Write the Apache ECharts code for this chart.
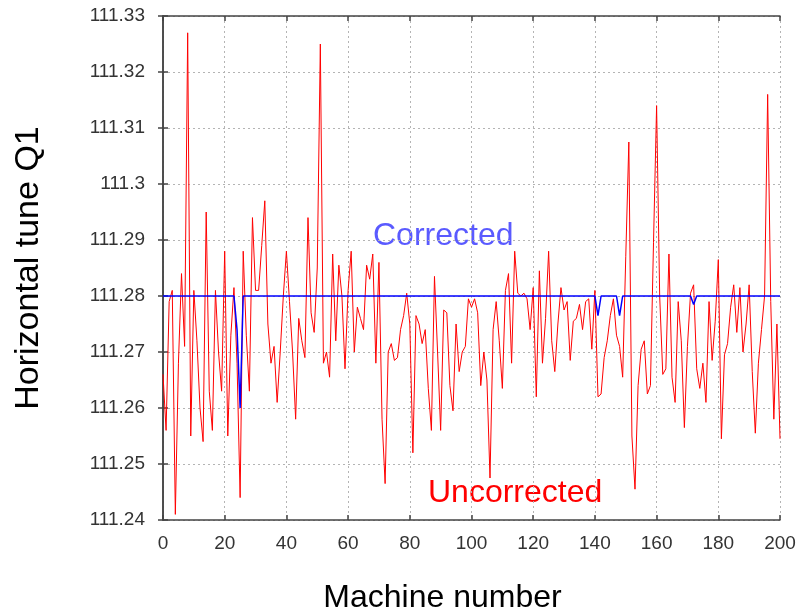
<!DOCTYPE html>
<html>
<head>
<meta charset="utf-8">
<script src="https://cdn.jsdelivr.net/npm/echarts@6/dist/echarts.min.js"></script>
<style>
  html, body { margin: 0; padding: 0; background: #fff; overflow: hidden; }
  #chart { width: 798px; height: 610px; }
</style>
</head>
<body>
<div id="chart"></div>
<script>
// tune readings per machine (0..200)
var uncorrected = [
  111.266, 111.256, 111.279, 111.281, 111.241, 111.268, 111.284, 111.271, 111.327, 111.255,
  111.281, 111.272, 111.260, 111.254, 111.295, 111.263, 111.256, 111.281, 111.270, 111.263,
  111.288, 111.255, 111.273, 111.2815, 111.268, 111.244, 111.288, 111.273, 111.263, 111.294,
  111.281, 111.281, 111.289, 111.297, 111.275, 111.268, 111.271, 111.261, 111.270, 111.280,
  111.288, 111.279, 111.270, 111.258, 111.276, 111.272, 111.269, 111.294, 111.277, 111.2735,
  111.285, 111.325, 111.268, 111.270, 111.2655, 111.2875, 111.272, 111.2855, 111.280, 111.267,
  111.281, 111.288, 111.270, 111.278, 111.276, 111.274, 111.2855, 111.283, 111.2875, 111.268,
  111.286, 111.258, 111.2465, 111.270, 111.2715, 111.2685, 111.269, 111.274, 111.2765, 111.2805,
  111.275, 111.252, 111.2765, 111.275, 111.2715, 111.274, 111.2635, 111.256, 111.2835, 111.270,
  111.256, 111.2775, 111.277, 111.264, 111.2595, 111.275, 111.2665, 111.270, 111.271, 111.2795,
  111.278, 111.2795, 111.277, 111.264, 111.270, 111.265, 111.2475, 111.274, 111.279, 111.272,
  111.2635, 111.281, 111.284, 111.268, 111.288, 111.2805, 111.280, 111.2805, 111.2795, 111.274,
  111.2815, 111.262, 111.2845, 111.268, 111.276, 111.288, 111.272, 111.2665, 111.275, 111.2815,
  111.2775, 111.279, 111.2685, 111.2755, 111.276, 111.2785, 111.274, 111.279, 111.2795, 111.2705,
  111.281, 111.262, 111.2625, 111.269, 111.272, 111.2765, 111.2795, 111.273, 111.271, 111.2655,
  111.287, 111.3075, 111.255, 111.2455, 111.264, 111.2705, 111.272, 111.2625, 111.264, 111.2895,
  111.314, 111.280, 111.266, 111.267, 111.2875, 111.2655, 111.261, 111.279, 111.272, 111.2565,
  111.271, 111.2805, 111.282, 111.267, 111.2635, 111.268, 111.261, 111.279, 111.2685, 111.2755,
  111.2865, 111.2545, 111.2695, 111.2715, 111.278, 111.282, 111.2735, 111.2815, 111.270, 111.275,
  111.282, 111.2665, 111.2555, 111.268, 111.274, 111.280, 111.316, 111.279, 111.258, 111.275,
  111.2545
]

// corrected tune: flat except a few small dips
var correctedX = [0, 23, 24, 25, 26, 140, 141, 142, 147, 148, 149, 171, 172, 173, 200]
var correctedY = [111.28, 111.28, 111.274, 111.26, 111.28, 111.28, 111.2765, 111.28,
  111.28, 111.2765, 111.28, 111.28, 111.2785, 111.28, 111.28]

var xTicks = { min: 0, max: 200, interval: 20 }
var yTicks = { min: 111.24, max: 111.33, interval: 0.01 }

var chart = echarts.init(document.getElementById('chart'))

var font = 'Liberation Sans'
var gridLine = { show: true, lineStyle: { color: '#b4b4b4', type: [2, 3], width: 1 } }
var boxLine = { show: true, lineStyle: { color: '#444', width: 1.5 } }
var inTick = { show: true, inside: true, length: 5, lineStyle: { color: '#444', width: 1.5 } }

chart.setOption({
  animation: false,
  grid: { left: 163, right: 18, top: 16, bottom: 90, outerBoundsMode: 'none' },
  xAxis: [{
    type: 'value',
    min: xTicks.min,
    max: xTicks.max,
    interval: xTicks.interval,
    name: 'Machine number',
    nameLocation: 'middle',
    nameGap: 62,
    nameTextStyle: { fontFamily: font, fontSize: 32, color: '#000', padding: [0, 58, 0, 0] },
    axisLine: boxLine,
    axisTick: inTick,
    splitLine: gridLine,
    axisLabel: { margin: 14, fontFamily: font, fontSize: 19, color: '#333' }
  }, {
    type: 'value',
    position: 'top',
    min: xTicks.min,
    max: xTicks.max,
    interval: xTicks.interval,
    axisLine: boxLine,
    axisTick: inTick,
    splitLine: { show: false },
    axisLabel: { show: false }
  }],
  yAxis: [{
    type: 'value',
    min: yTicks.min,
    max: yTicks.max,
    interval: yTicks.interval,
    name: 'Horizontal tune Q1',
    nameLocation: 'middle',
    nameGap: 117,
    nameTextStyle: { fontFamily: font, fontSize: 34, color: '#000' },
    axisLine: boxLine,
    axisTick: inTick,
    splitLine: gridLine,
    axisLabel: {
      margin: 18, fontFamily: font, fontSize: 19, color: '#333',
      formatter: function (v) { return String(+v.toFixed(2)) }
    }
  }, {
    type: 'value',
    position: 'right',
    min: yTicks.min,
    max: yTicks.max,
    interval: yTicks.interval,
    axisLine: boxLine,
    axisTick: inTick,
    splitLine: { show: false },
    axisLabel: { show: false }
  }],
  series: [{
    name: 'Uncorrected',
    type: 'line',
    data: uncorrected.map(function (v, i) { return [i, v] }),
    showSymbol: false,
    lineStyle: { color: '#ff0000', width: 1 },
    z: 2
  }, {
    name: 'Corrected',
    type: 'line',
    data: correctedX.map(function (x, i) { return [x, correctedY[i]] }),
    showSymbol: false,
    lineStyle: { color: '#0000ff', width: 1.5 },
    z: 3
  }],
  graphic: [{
    type: 'text',
    left: 373,
    top: 220,
    style: { text: 'Corrected', font: '32px "Liberation Sans"', fill: '#5a5aff' }
  }, {
    type: 'text',
    left: 428,
    top: 477,
    style: { text: 'Uncorrected', font: '32px "Liberation Sans"', fill: '#ff0000' }
  }]
})
</script>
</body>
</html>
